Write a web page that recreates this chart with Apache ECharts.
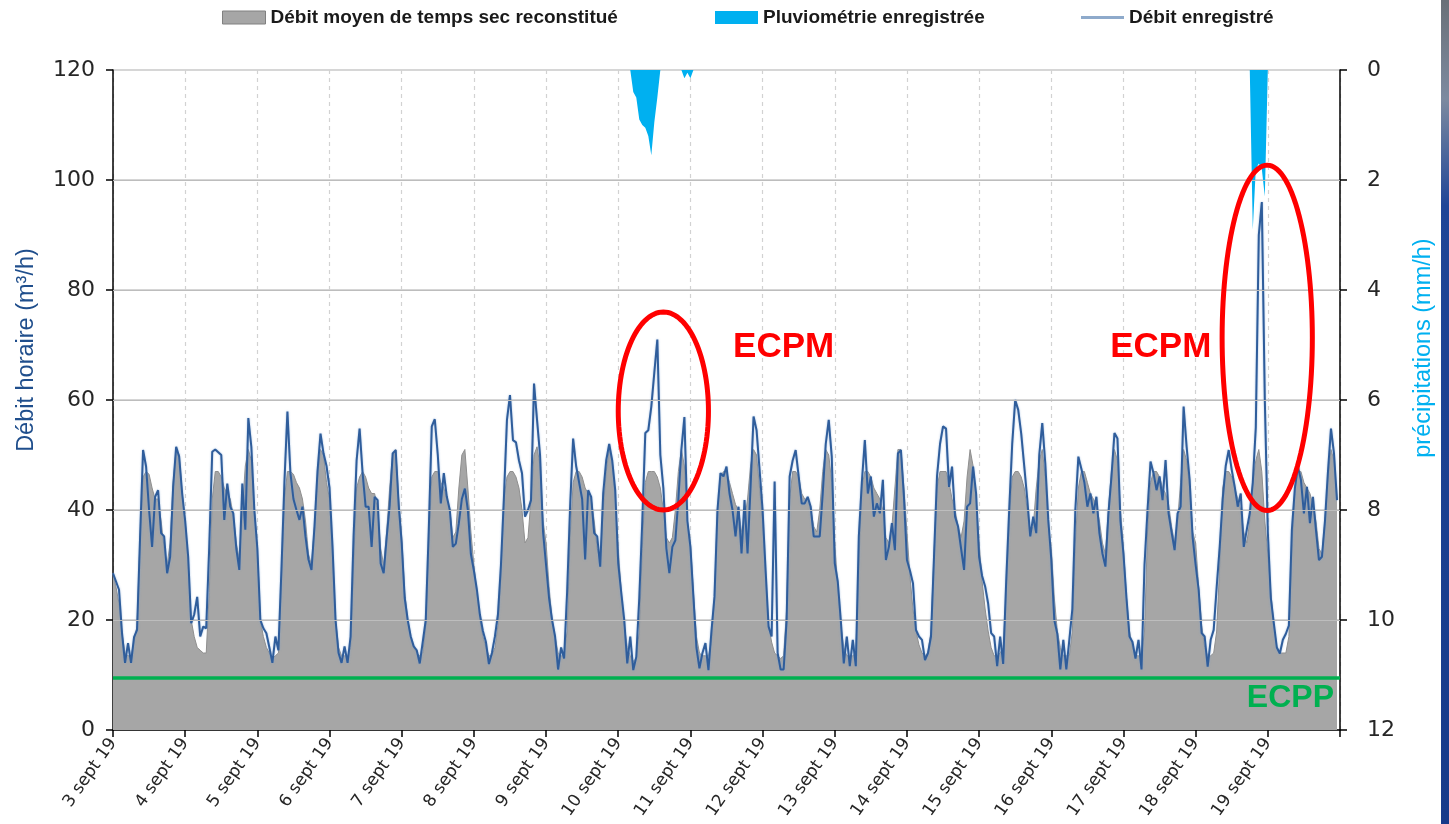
<!DOCTYPE html>
<html>
<head>
<meta charset="utf-8">
<script src="https://cdn.jsdelivr.net/npm/echarts@6/dist/echarts.min.js"></script>
<style>
html,body{margin:0;padding:0;background:#fff;}
#chart{width:1449px;height:824px;}
</style>
</head>
<body>
<div id="chart"></div>
<script>
// ---- Tick labels (one per day, 24 hourly points per day) ----
const dayLabels = ['3 sept 19','4 sept 19','5 sept 19','6 sept 19','7 sept 19','8 sept 19','9 sept 19',
  '10 sept 19','11 sept 19','12 sept 19','13 sept 19','14 sept 19','15 sept 19','16 sept 19',
  '17 sept 19','18 sept 19','19 sept 19'];

// ---- Débit enregistré (m3/h), hourly ----
const debitEnregistre = [
  /*03*/ 28.5,27,25.5,17.6,12.2,15.8,12.2,16.9,18.2,35,50.9,47.9,40,33.3,42.4,43.6,35.8,35.2,28.5,31.5,44.2,51.5,49.7,43,
  /*04*/ 38,31.5,19.4,21,24.2,17,18.8,18.5,33.3,50.6,51,50.5,50,38.2,44.8,40.6,39.4,33,29.1,44.8,36.4,56.7,51.5,40,
  /*05*/ 33,20,18.5,17.6,15,12.2,17,14.5,29.1,45,57.9,46.7,42,40,38.2,40.6,35.2,31,29.1,37,47,53.9,50.3,48,
  /*06*/ 44,33.3,20,14,12.2,15.2,12.2,17,35.2,49,54.8,46.7,40.6,40.6,33.3,42.4,41.8,30.3,28.5,35,40.9,50.3,50.9,40.9,
  /*07*/ 34,24,20,17,15.2,14.5,12.1,16,20,36.4,55.2,56.5,50,41.2,46.7,42.4,40,33.3,33.9,37.6,42,43.9,40,32,
  /*08*/ 29,25.5,21,18,16,12,14,17,21,30,42.4,56.4,60.9,52.7,52.3,49,46.7,38.8,40,41.8,63,56.4,50,36,
  /*09*/ 30,24,20,17,11,15,13,25,40.6,53,48,45,42,31,43.6,42.4,35.8,35.2,29.7,43,49,52,49,43.6,
  /*10*/ 30.3,25,20,12.1,17,10.9,13.3,24,38,54,54.5,58.8,65,71,50,44,33,28.5,33.3,34.5,42,51,56.9,38,
  /*11*/ 33.3,24.2,15,11.2,14,15.8,10.9,18,24.2,40,46.7,46.1,47.9,43,40,35.2,40.6,32.1,41.8,32.1,44.2,57,54.5,47.3,
  /*12*/ 40,29.1,18.8,17,45.2,14,11,11,20,46.1,49,50.9,46.1,41.2,41.2,42.4,40.6,35.2,35.2,35.2,43,52,56.4,49.7,
  /*13*/ 30.3,27,20,12.1,17,11.6,16.4,11.6,35.2,45,52.7,43,46.1,38.8,41.2,39.4,45.5,30.9,33.3,37.6,32.7,50.3,50.9,42.4,
  /*14*/ 30.9,29,26.7,18.2,17,16.4,12.7,14,17,31.5,46.1,52,55.2,54.8,44.2,47.9,38.8,37,33,29.1,40.6,41.2,47.9,43,
  /*15*/ 31.5,28,26.1,23,17.6,17,11.6,17,12,27,40,52,60,58.2,53.9,48,42,35.2,38.8,35.8,50,55.8,48.5,38.2,
  /*16*/ 31,20,17.5,11,16.4,11,16.4,22,40,49.7,47.5,45,40.6,43,39.4,42.4,35.8,32.1,29.7,39.4,46,54,53,38,
  /*17*/ 32,24,17,16,13,16.4,11,30,40,48.8,46.7,43.6,46.1,41.8,49.1,39.4,36,32.7,39.4,40.6,58.8,51.5,45.5,35,
  /*18*/ 30,25.5,17.6,17,11.5,16.4,18.2,26,33.3,42,48,50.9,47.3,44.2,40.6,43,33.3,36.4,39.4,45,55,90,96,60,
  /*19*/ 36,24,19.4,15,13.9,16.4,17.5,19,36.4,44,47.9,45.5,39.4,44.2,37.6,42.4,36.4,30.9,31.5,38,47,54.8,50.3,41.8
];

// ---- Débit moyen de temps sec reconstitué (m3/h), hourly ----
const debitTempsSec = [
  /*03*/ 28.5,26,23,17.5,14,13.5,13.5,16,19,35,46,47,46.5,44,42,42,38,33,30,34,45,51,50,43,
  /*04*/ 38,30,20,17,15,14.5,14,14,25,42,47,47,46,44,43,42,39,34,31,40,48,51,49,40,
  /*05*/ 33,20,17,15,14,13,13.5,14,27,42,47,47,46.5,45,44,42,38,32,30,37,46,51,50,45,
  /*06*/ 42,32,20,15,13.5,13.5,13.5,15,30,44,46,47,46,44,43,43,40,33,30,36,44,50,51,42,
  /*07*/ 35,25,20,17,15,14,13.5,14,19,34,46,47,47,45,44,42,40,35,36,44,50,51,44,36,
  /*08*/ 30,25,20,17,15,13.5,13.5,15,19,28,42,46,47,47,46,44,40,34,35,42,50,51.5,48,38,
  /*09*/ 34,26,20,17,14,13.5,13.5,18,35,45,47,47,46,44,43,42,38,33,31,40,47,51,49,42,
  /*10*/ 33,25,19,15,13.5,12.5,13,18,33,45,47,47,47,46,44,40,35,34,35,40,47,51,48,38,
  /*11*/ 34,25,17,14,13.5,13.5,13.5,16,24,40,46,47,47,45,43,41,40,36,38,42,48,51,50,44,
  /*12*/ 38,28,19,16,14,13.5,13,13.5,22,42,47,47,46,43,42,42,40,37,36,40,47,51,50,45,
  /*13*/ 34,26,19,15,13.5,13.5,13.5,14,30,44,47,47,46,44,43,42,40,35,34,37,44,51,51,44,
  /*14*/ 36,28,22,18,15.5,14,13.5,14,18,32,44,47,47,47,45,42,40,37,35,38,46,51,48,42,
  /*15*/ 34,27,22,18,15,13.5,13.5,14,15,25,38,46,47,47,46,44,40,36,37,44,49,51,46,37,
  /*16*/ 33,24,18,15,13.5,13.5,13.5,18,34,44,47,47,45,43,42,41,38,34,32,40,47,51,49,40,
  /*17*/ 33,24,18,15,13.5,13.5,13.5,18,36,45,47,47,46,44,43,41,37,34,38,45,51,49,44,36,
  /*18*/ 34,26,19,15,13.5,13.5,14,18,30,44,47,47,46,44,42,40,36,34,38,45,49,51,47,38,
  /*19*/ 32,25,19,15,14,14,14,17,33,44,47,47,45,44,43,41,38,33,32,38,46,51,49,42
];

// ---- Pluviométrie enregistrée (mm/h): hours (index from 3 sept 0h) and values ----
const pluieHeures  = [173,174,175,176,177,178,179,180,181, 190,191,192, 379,380,381,382,383];
const pluieValeurs = [0.4,0.5,0.9,1.0,1.05,1.2,1.55,0.95,0.5, 0.15,0.05,0.15, 2.9,1.8,1.7,1.8,2.3];

// ---- Annotations ----
const seuilECPP = 9.5;
// [centre hour, centre flow, half-width (h), half-height (m3/h), label hour, label flow]
const ellipsesECPM = [
  [183, 58, 15, 18, 206.2, 69.6],
  [383.8, 71.3, 15, 31.4, 331.6, 69.6]
];
const gridLevels = [20, 40, 60, 80, 100];

// ---- build series data ----
const nH = dayLabels.length * 24;
const grayData = debitTempsSec.map((v, i) => [i, v]);
const blueData = debitEnregistre.map((v, i) => [i, v]);
const rainFull = new Array(nH).fill(0);
pluieHeures.forEach((h, k) => { rainFull[h] = pluieValeurs[k]; });
const rainData = rainFull.map((v, i) => [i, v]);

const NAME_GRAY = 'Débit moyen de temps sec reconstitué';
const NAME_RAIN = 'Pluviométrie enregistrée';
const NAME_LINE = 'Débit enregistré';
const FONT = 'Liberation Sans, Arial, sans-serif';
const legendText = {fontFamily: FONT, fontSize: 19, fontWeight: 'bold', color: '#1a1a1a'};

const chart = echarts.init(document.getElementById('chart'), null, {renderer: 'canvas'});
chart.setOption({
  backgroundColor: '#ffffff',
  animation: false,
  legend: [
    {left: 222, top: 8, padding: 0, itemWidth: 43, itemHeight: 13, textStyle: legendText,
     data: [{name: NAME_GRAY, icon: 'rect', itemStyle: {color: '#a6a6a6', borderColor: '#808080', borderWidth: 1}}]},
    {left: 715, top: 8, padding: 0, itemWidth: 43, itemHeight: 13, textStyle: legendText,
     data: [{name: NAME_RAIN, icon: 'rect', itemStyle: {color: '#00b0f0'}}]},
    {left: 1081, top: 8, padding: 0, itemWidth: 43, itemHeight: 3, textStyle: legendText,
     data: [{name: NAME_LINE, icon: 'rect', itemStyle: {color: '#8eaacb'}}]}
  ],
  grid: {left: 113, right: 109, top: 70, bottom: 94, containLabel: false},
  xAxis: {
    type: 'value', min: 0, max: nH, interval: 24,
    axisLine: {show: true, lineStyle: {color: '#000', width: 1.5}},
    axisTick: {show: true, length: 7, lineStyle: {color: '#000', width: 1.5}},
    axisLabel: {
      formatter: v => dayLabels[v / 24] || '',
      rotate: 55, margin: 10, fontFamily: 'DejaVu Sans', fontSize: 17, color: '#262626'
    },
    splitLine: {show: true, lineStyle: {color: '#d2d2d2', type: [4, 4], width: 1.2}}
  },
  yAxis: [
    {
      type: 'value', min: 0, max: 120, interval: 20,
      name: 'Débit horaire (m³/h)', nameLocation: 'middle', nameGap: 74,
      nameTextStyle: {color: '#1f4e8c', fontFamily: FONT, fontSize: 23.5, padding: [0, 0, 0, 100]},
      axisLine: {show: true, lineStyle: {color: '#000', width: 1.5}},
      axisTick: {show: true, length: 7, lineStyle: {color: '#000', width: 1.5}},
      axisLabel: {fontFamily: 'DejaVu Sans', fontSize: 22, color: '#262626', margin: 18},
      splitLine: {show: true, lineStyle: {color: '#c8c8c8', width: 1.5}}
    },
    {
      type: 'value', min: 0, max: 12, interval: 2, inverse: true, position: 'right',
      name: 'précipitations (mm/h)', nameLocation: 'middle', nameGap: 72,
      nameTextStyle: {color: '#00b0f0', fontFamily: FONT, fontSize: 23.5, padding: [0, 0, 0, 104]},
      axisLine: {show: true, lineStyle: {color: '#000', width: 1.5}},
      axisTick: {show: true, length: 7, lineStyle: {color: '#000', width: 1.5}},
      axisLabel: {fontFamily: 'DejaVu Sans', fontSize: 22, color: '#262626', margin: 27},
      splitLine: {show: false}
    }
  ],
  series: [
    {
      name: NAME_GRAY, type: 'line', data: grayData, symbol: 'none', z: 2,
      lineStyle: {width: 1, color: '#8f8f8f'},
      itemStyle: {color: '#a6a6a6'},
      areaStyle: {color: '#a6a6a6', opacity: 1},
      markLine: {
        silent: true, symbol: 'none', animation: false,
        data: gridLevels.map(g => ({yAxis: g, lineStyle: {color: '#bdbdbd', width: 1.2, type: 'solid'}, label: {show: false}}))
          .concat([{
            yAxis: seuilECPP,
            lineStyle: {color: '#00b050', width: 3.5, type: 'solid'},
            label: {show: true, formatter: 'ECPP', position: 'insideEndBottom', distance: [6, 4],
                    color: '#00b050', fontFamily: FONT, fontWeight: 'bold', fontSize: 32}
          }])
      }
    },
    {
      name: NAME_RAIN, type: 'line', yAxisIndex: 1, data: rainData, symbol: 'none', z: 3,
      lineStyle: {width: 0, color: '#00b0f0'},
      itemStyle: {color: '#00b0f0'},
      areaStyle: {color: '#00b0f0', opacity: 1}
    },
    {
      name: NAME_LINE, type: 'line', data: blueData, symbol: 'none', z: 4,
      lineStyle: {width: 2, color: '#2f5d9b', shadowColor: 'rgba(120,160,210,0.7)', shadowBlur: 2},
      itemStyle: {color: '#2f5d9b'}
    },
    {
      name: 'ECPM', type: 'custom', data: ellipsesECPM, z: 10, silent: true, clip: false,
      renderItem: function (params, api) {
        const c = api.coord([api.value(0), api.value(1)]);
        const s = api.size([api.value(2), api.value(3)]);
        const pts = [];
        for (let k = 0; k < 120; k++) {
          const a = k / 120 * 2 * Math.PI;
          pts.push([c[0] + s[0] * Math.cos(a), c[1] + s[1] * Math.sin(a)]);
        }
        const t = api.coord([api.value(4), api.value(5)]);
        return {
          type: 'group',
          children: [
            {type: 'polygon', shape: {points: pts}, style: {fill: 'none', stroke: '#ff0000', lineWidth: 5}},
            {type: 'text', x: t[0], y: t[1], style: {text: 'ECPM', fill: '#ff0000', fontFamily: FONT,
              fontWeight: 'bold', fontSize: 35, align: 'left', verticalAlign: 'middle'}}
          ]
        };
      }
    }
  ],
  graphic: [
    {type: 'rect', right: 0, top: 0, shape: {width: 8, height: 824}, silent: true,
     style: {fill: new echarts.graphic.LinearGradient(0, 0, 0, 1, [
       {offset: 0, color: '#6a7078'}, {offset: 0.12, color: '#7d8aa0'}, {offset: 0.25, color: '#1f4597'}, {offset: 1, color: '#173a8a'}])}}
  ]
});
</script>
</body>
</html>
